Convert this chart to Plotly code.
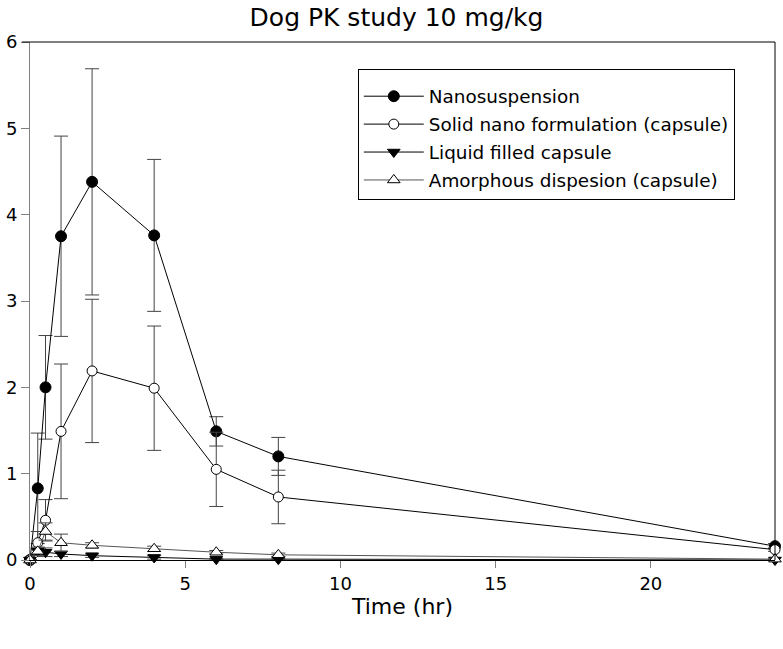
import plotly.graph_objects as go

time_hr = [0, 0.25, 0.5, 1, 2, 4, 6, 8, 24]

nano_mean = [0, 0.83, 2.00, 3.75, 4.38, 3.76, 1.49, 1.20, 0.16]
nano_sd = [0, 0.64, 0.60, 1.16, 1.31, 0.88, 0.17, 0.22, 0.03]

solid_mean = [0, 0.20, 0.46, 1.49, 2.19, 1.99, 1.05, 0.73, 0.12]
solid_sd = [0, 0.13, 0.24, 0.78, 0.83, 0.72, 0.43, 0.31, 0.02]

liquid_mean = [0, 0.10, 0.09, 0.07, 0.05, 0.03, 0.01, 0.01, 0.0]
liquid_sd = [0, 0.04, 0.05, 0.03, 0.02, 0.02, 0.01, 0.01, 0.0]

amorph_mean = [0, 0.10, 0.33, 0.20, 0.17, 0.13, 0.09, 0.06, 0.01]
amorph_sd = [0, 0.05, 0.10, 0.10, 0.03, 0.03, 0.02, 0.02, 0.01]

names = [
    "Nanosuspension",
    "Solid nano formulation (capsule)",
    "Liquid filled capsule",
    "Amorphous dispesion (capsule)",
]

x_ticks = [0, 5, 10, 15, 20]
y_ticks = [0, 1, 2, 3, 4, 5, 6]

FONT = "DejaVu Sans"
ERR = "#444444"

series = [
    (nano_mean, nano_sd, dict(symbol="circle", size=11, color="black",
                              line=dict(color="black", width=1)), "black"),
    (solid_mean, solid_sd, dict(symbol="circle", size=10, color="white",
                                line=dict(color="black", width=1)), "black"),
    (liquid_mean, liquid_sd, dict(symbol="triangle-down", size=11, color="black",
                                  line=dict(color="black", width=1)), "black"),
    (amorph_mean, amorph_sd, dict(symbol="triangle-up", size=11, color="white",
                                  line=dict(color="black", width=1)), "#555555"),
]

fig = go.Figure()
for i, (m, sd, mk, lc) in enumerate(series):
    fig.add_trace(go.Scatter(
        x=time_hr, y=m, name=names[i], mode="lines+markers",
        line=dict(color=lc, width=1), marker=mk,
        error_y=dict(type="data", array=sd, visible=True, color=ERR,
                     thickness=1, width=7),
        cliponaxis=False, legendgroup=f"g{i}",
    ))

fig.update_layout(
    width=783, height=649,
    margin=dict(l=30, r=8, t=42, b=89, autoexpand=False),
    paper_bgcolor="white", plot_bgcolor="white",
    font=dict(family=FONT, color="black"),
    title=dict(text="Dog PK study 10 mg/kg", font=dict(family=FONT, size=25, color="black"),
               x=0.5064, xref="container", xanchor="center",
               y=1 - 17 / 649, yref="container", yanchor="middle"),
    showlegend=True,
    legend=dict(x=0.44, y=0.948, xanchor="left", yanchor="top",
                bgcolor="white", bordercolor="black", borderwidth=1,
                font=dict(family=FONT, size=18.4, color="black"),
                title=dict(text=" ", font=dict(size=6)),
                tracegroupgap=1, itemwidth=60),
    xaxis=dict(range=[0, 24], tickvals=x_ticks, ticks="outside", ticklen=7,
               tickcolor="#808080", showline=True, linecolor="black", linewidth=1,
               showgrid=False, zeroline=False, automargin=False,
               tickfont=dict(family=FONT, size=18, color="black"),
               title=dict(text="Time (hr)", font=dict(family=FONT, size=22, color="black"),
                          standoff=6)),
    yaxis=dict(range=[0, 6], tickvals=y_ticks, ticks="outside", ticklen=8,
               tickcolor="#808080", showline=True, linecolor="#808080", linewidth=1,
               showgrid=False, zeroline=False, automargin=False,
               tickfont=dict(family=FONT, size=18, color="black")),
    shapes=[
        dict(type="line", xref="paper", yref="paper", x0=-0.0107, x1=1, y0=1, y1=1,
             line=dict(color="black", width=1)),
        dict(type="line", xref="paper", yref="paper", x0=1, x1=1, y0=0, y1=1,
             line=dict(color="black", width=1)),
    ],
)

fig.write_html("out.html", config={"displayModeBar": False},
               post_script="document.body.style.margin='0';")
